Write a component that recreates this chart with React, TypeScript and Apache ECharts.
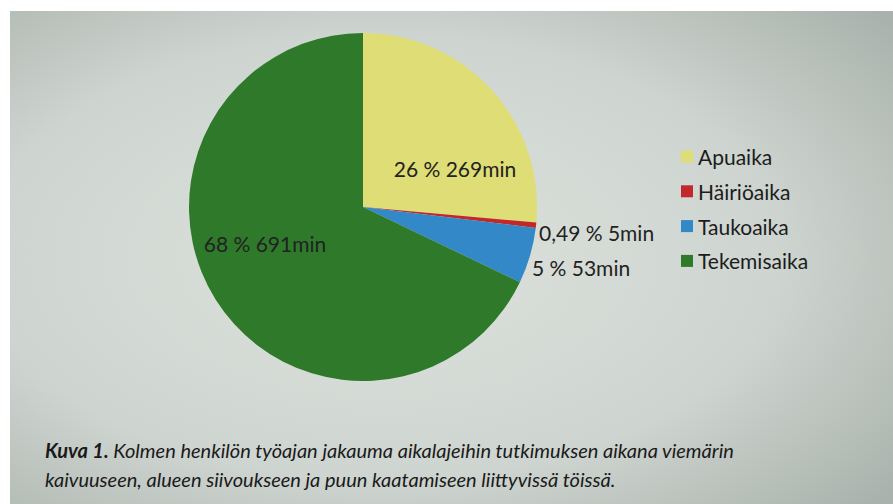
import React, { useEffect, useRef } from "react";
import * as echarts from "echarts";

const categories = ["Apuaika", "Häiriöaika", "Taukoaika", "Tekemisaika"];
const minutes = [269, 5, 53, 691];
const percentLabels = ["26", "0,49", "5", "68"];
const sliceColors = ["#dedd76", "#c1272b", "#3388c8", "#2e7a2a"];
const captionBold = "Kuva 1.";
const captionLine1 = " Kolmen henkilön työajan jakauma aikalajeihin tutkimuksen aikana viemärin";
const captionLine2 = "kaivuuseen, alueen siivoukseen ja puun kaatamiseen liittyvissä töissä.";

const LABEL_POS = [
  { x: 455, y: 168, align: "center" },
  { x: 539, y: 232, align: "left" },
  { x: 532, y: 267, align: "left" },
  { x: 265, y: 243, align: "center" },
];

export default function App() {
  const ref = useRef<HTMLDivElement>(null);
  useEffect(() => {
    if (!ref.current) return;
    const chart = echarts.init(ref.current, null, { renderer: "svg" });
    const font = "Lato, 'Open Sans', sans-serif";
    chart.setOption({
      animation: false,
      backgroundColor: "#ffffff",
      color: sliceColors,
      legend: {
        orient: "vertical",
        left: 676,
        top: 141,
        icon: "rect",
        itemWidth: 12,
        itemHeight: 12,
        itemGap: 13.8,
        textStyle: { fontFamily: font, fontSize: 21, color: "#1c1c1c" },
        data: categories,
      },
      graphic: [
        {
          type: "rect",
          z: -10,
          shape: { x: 10, y: 11, width: 883, height: 493 },
          style: {
            fill: new echarts.graphic.RadialGradient(0.42, 0.5, 0.75, [
              { offset: 0, color: "#dde2dd" },
              { offset: 0.6, color: "#ced4cf" },
              { offset: 1, color: "#a9b2ac" },
            ]),
          },
        },
        {
          type: "text",
          z: 10,
          left: 45,
          top: 440,
          style: {
            text: "{b|" + captionBold + "}{r|" + captionLine1 + "}\n{r|" + captionLine2 + "}",
            rich: {
              b: { fontFamily: font, fontStyle: "italic", fontWeight: "bold", fontSize: 20, fill: "#1a1a1a", lineHeight: 29 },
              r: { fontFamily: font, fontStyle: "italic", fontSize: 20, fill: "#1a1a1a", lineHeight: 29 },
            },
          },
        },
      ],
      series: [
        {
          type: "pie",
          center: [363, 207],
          radius: 174,
          startAngle: 90,
          clockwise: true,
          avoidLabelOverlap: false,
          itemStyle: { borderWidth: 0 },
          label: {
            show: true,
            position: "inside",
            fontFamily: font,
            fontSize: 21,
            color: "#222222",
            formatter: (p: any) => percentLabels[p.dataIndex] + " % " + p.value + "min",
          },
          labelLine: { show: false },
          labelLayout: (params: any) => {
            const p = LABEL_POS[params.dataIndex];
            return { x: p.x, y: p.y, align: p.align, verticalAlign: "middle" };
          },
          data: categories.map((name, i) => ({ name, value: minutes[i] })),
        },
      ],
    });
    return () => chart.dispose();
  }, []);
  return (
    <div
      ref={ref}
      style={{ position: "fixed", left: 0, top: 0, width: 893, height: 504 }}
    />
  );
}
